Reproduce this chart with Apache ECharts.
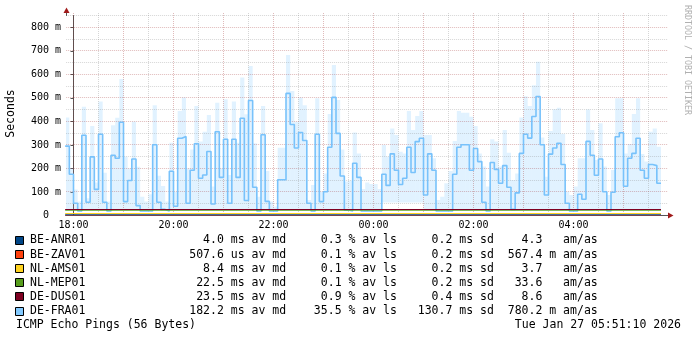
<!DOCTYPE html>
<html><head><meta charset="utf-8">
<script src="https://cdn.jsdelivr.net/npm/echarts@6/dist/echarts.min.js"></script>
<style>html,body{margin:0;padding:0;background:#fff}#c{width:697px;height:339px}</style>
</head><body><div id="c"></div>
<script>
// ---------- data ----------
// minutes relative to 18:00 (Mon Jan 26); view = 12 h ending Tue Jan 27 05:51:10
const viewStartMin = -8 - 50 / 60;      // 17:51:10
const viewEndMin = viewStartMin + 720;  // 05:51:10
const firstStepMin = -10;               // 17:50, 5-minute RRD steps
const stepMin = 5;

// DE-FRA01 median RTT per 5-min step (ms), 17:50 .. 05:40
const fraMedian = [
 295,175,52,19,341,56,249,111,345,56,19,256,243,396,59,149,240,42,19,19,
 19,301,56,26,19,188,39,328,336,52,192,305,158,172,272,49,356,162,324,52,
 324,162,413,64,489,120,19,343,60,19,19,152,152,519,387,287,353,319,52,19,
 345,59,101,290,502,349,168,23,19,222,162,19,19,19,19,19,175,128,262,192,
 132,158,290,183,314,328,87,262,192,19,19,19,19,175,290,301,301,192,285,229,
 56,19,225,196,137,212,120,26,96,264,345,329,421,506,301,87,261,287,307,217,
 52,19,19,90,69,315,256,171,240,101,19,99,335,352,124,243,264,328,192,158,
 217,212,137
];
// DE-FRA01 smoke (spread of the pings) upper bound per step (ms)
const fraSmokeHi = [
 417,200,111,60,462,73,380,140,484,182,59,384,415,580,250,200,398,207,80,60,
 90,469,169,125,60,309,100,444,502,200,280,465,314,356,427,123,479,200,494,172,
 484,309,586,430,635,307,80,465,189,59,38,288,288,682,529,398,502,469,66,130,
 498,101,179,431,640,491,281,144,148,353,264,113,140,134,134,113,300,250,370,342,
 271,264,444,363,423,444,342,342,243,66,80,137,189,317,444,437,437,420,380,264,
 208,123,324,314,208,363,267,151,179,417,507,465,554,653,331,165,359,452,458,346,
 101,87,123,243,243,451,363,236,392,208,87,193,498,498,264,304,431,498,261,229,
 356,370,292
];
// DE-FRA01 smoke lower bound per step (ms)
const fraSmokeLo = [
 19,19,19,19,19,19,19,19,19,19,19,19,19,19,19,19,19,19,19,19,
 19,19,19,19,19,19,19,19,19,19,19,19,19,19,19,19,19,19,19,19,
 19,19,19,19,19,19,19,19,19,19,19,19,19,19,19,19,19,19,19,19,
 19,19,19,19,19,19,19,19,19,19,19,19,19,19,19,19,55,55,55,55,
 55,55,55,55,55,55,19,19,19,19,19,19,19,19,19,19,19,19,19,19,
 19,19,19,19,19,19,19,19,19,19,19,19,19,19,19,19,19,19,19,19,
 19,19,19,19,19,19,19,19,19,19,19,19,19,19,19,19,19,19,19,19,
 19,19,19
];

// other targets: [minute, ms] readings (nearly flat)
const anrLine = [[-10, 3.0], [705, 3.0]];
const zavLine = [[-10, 0.5], [705, 0.5]];
const amsLine = [[-10, 8.4], [705, 8.4]];
const mepLine = [[-10, 22.5], [705, 22.5]];
const dusLine = [[-10, 25.5], [705, 25.5]];

// legend table
const hostNames  = ['BE-ANR01','BE-ZAV01','NL-AMS01','NL-MEP01','DE-DUS01','DE-FRA01'];
const hostColors = ['#004586','#ff420e','#ffd320','#579d1c','#7e0021','#83caff'];
const medVal  = ['4.0','507.6','8.4','22.5','23.5','182.2'];
const medUnit = ['ms','us','ms','ms','ms','ms'];
const lossVal = ['0.3','0.1','0.1','0.1','0.9','35.5'];
const sdVal   = ['0.2','0.2','0.2','0.2','0.4','130.7'];
const amasVal = ['4.3','567.4','3.7','33.6','8.6','780.2'];
const amasUnit= [' ','m',' ',' ',' ','m'];

// axes
const yMax = 850;
const yLabelVals = [0,100,200,300,400,500,600,700,800];
const yMajorGrid = [100,200,300,400,500,600,700,800];
const yMinorGrid = [50,150,250,350,450,550,650,750,850];
const xLabelVals = [0,120,240,360,480,600];
const xMajorGrid = [0,60,120,180,240,300,360,420,480,540,600,660];
const xMinorGrid = [30,90,150,210,270,330,390,450,510,570,630,690];

const titleText = 'ICMP Echo Pings (56 Bytes)';
const dateText = 'Tue Jan 27 05:51:10 2026';

// ---------- build ----------
const MONO = '"DejaVu Sans Mono", monospace';
function hhmm(m){ const t = ((m + 18*60) % 1440 + 1440) % 1440; const h = Math.floor(t/60), mi = Math.round(t%60);
  return String(h).padStart(2,'0') + ':' + String(mi).padStart(2,'0'); }

const fraLinePts = fraMedian.map((v,i)=>[firstStepMin + i*stepMin, v]);
fraLinePts.push([firstStepMin + fraMedian.length*stepMin, fraMedian[fraMedian.length-1]]);
const smokeData = fraMedian.map((_,i)=>[firstStepMin + i*stepMin, fraSmokeLo[i], fraSmokeHi[i]]);

const gridData = [];
xMajorGrid.forEach(v=>gridData.push([0,v]));
xMinorGrid.forEach(v=>gridData.push([1,v]));
yMajorGrid.forEach(v=>gridData.push([2,v]));
yMinorGrid.forEach(v=>gridData.push([3,v]));

const MAJ = 'rgba(160,40,40,0.32)';
const MIN = 'rgba(140,140,140,0.36)';

function stepLine(name, data, color, width, z){
  return {type:'line', name, data, step:'end', symbol:'none', z,
    lineStyle:{color, width}, silent:true, clip:true};
}

const legendGraphics = [];
const rowY0 = 240.5, rowDY = 14.1;
hostNames.forEach((n,i)=>{
  const y = rowY0 + i*rowDY;
  const s = n.padEnd(8) + medVal[i].padStart(20) + ' ' + medUnit[i] + ' av md' +
            lossVal[i].padStart(8) + ' % av ls' + sdVal[i].padStart(8) + ' ms sd' +
            amasVal[i].padStart(7) + ' ' + amasUnit[i] + ' am/as';
  legendGraphics.push({type:'rect', shape:{x:15.5, y:Math.round(y-4.5)+0.5, width:8, height:8},
    style:{fill:hostColors[i], stroke:'#000', lineWidth:1}});
  legendGraphics.push({type:'text', x:30, y:y, style:{text:s, font:'11.5px '+MONO, fill:'#000',
    textVerticalAlign:'middle', textAlign:'left'}});
});

const option = {
  animation:false,
  backgroundColor:'#fff',
  grid:{left:66.14, top:15.5, width:600, height:200},
  xAxis:{type:'value', min:viewStartMin, max:viewEndMin,
    axisLine:{show:true, lineStyle:{color:'#555', width:1}},
    axisTick:{show:false},
    splitLine:{show:false},
    axisLabel:{customValues:xLabelVals, formatter:v=>hhmm(v), fontFamily:MONO, fontSize:10, color:'#000', margin:5}
  },
  yAxis:{type:'value', min:0, max:yMax,
    axisLine:{show:true, lineStyle:{color:'#555', width:1}},
    axisTick:{show:true, customValues:yLabelVals, length:3, lineStyle:{color:'#555'}},
    splitLine:{show:false},
    axisLabel:{customValues:yLabelVals, formatter:v=> v===0 ? '0  ' : v+' m', fontFamily:MONO, fontSize:10, color:'#000', margin:5}
  },
  series:[
    {type:'custom', name:'smoke', data:smokeData, z:1, clip:true, silent:true,
      renderItem:(params, api)=>{
        const t = api.value(0), lo = api.value(1), hi = api.value(2);
        const a = api.coord([t, hi]), b = api.coord([t + stepMin, lo]);
        return {type:'rect', shape:{x:a[0], y:a[1], width:b[0]-a[0], height:b[1]-a[1]},
          style:{fill:'rgba(131,202,255,0.24)'}};
      }},
    {type:'custom', name:'grid', data:gridData, z:2, clip:false, silent:true,
      renderItem:(params, api)=>{
        const cs = params.coordSys; const k = api.value(0), v = api.value(1);
        const color = (k===0||k===2) ? MAJ : MIN;
        if (k < 2){
          const x = Math.floor(api.coord([v,0])[0]) + 0.5;
          return {type:'line', shape:{x1:x, y1:cs.y-2.5, x2:x, y2:cs.y+cs.height},
            style:{stroke:color, lineWidth:1, lineDash:[1,1]}};
        }
        const y = Math.floor(api.coord([viewStartMin, v])[1]) + 0.5;
        return {type:'line', shape:{x1:cs.x, y1:y, x2:cs.x+cs.width+2, y2:y},
          style:{stroke:color, lineWidth:1, lineDash:[1,1]}};
      }},
    stepLine('DE-FRA01', fraLinePts, '#78c2fb', 1.6, 5),
    stepLine('NL-MEP01', mepLine, hostColors[3], 1, 5),
    stepLine('DE-DUS01', dusLine, hostColors[4], 1.2, 6),
    stepLine('NL-AMS01', amsLine, hostColors[2], 1.2, 5),
    stepLine('BE-ANR01', anrLine, hostColors[0], 1.2, 5),
    stepLine('BE-ZAV01', zavLine, hostColors[1], 1, 4)
  ],
  graphic:[
    {type:'line', shape:{x1:66.5, y1:10, x2:66.5, y2:16}, style:{stroke:'#555', lineWidth:1}},
    {type:'polygon', shape:{points:[[63.5,13],[66.5,7.5],[69.5,13]]}, style:{fill:'#a01a1a'}},
    {type:'line', shape:{x1:666, y1:215.5, x2:671, y2:215.5}, style:{stroke:'#555', lineWidth:1}},
    {type:'polygon', shape:{points:[[668,212.5],[673.5,215.5],[668,218.5]]}, style:{fill:'#a01a1a'}},
    {type:'text', x:11, y:113.5, rotation:Math.PI/2, style:{text:'Seconds', font:'11.5px '+MONO, fill:'#000',
      textAlign:'center', textVerticalAlign:'middle'}},
    {type:'text', x:687.5, y:60, rotation:-Math.PI/2, style:{text:'RRDTOOL / TOBI OETIKER', font:'8.3px '+MONO, fill:'#b0b0b0',
      textAlign:'center', textVerticalAlign:'middle'}},
    ...legendGraphics,
    {type:'text', x:16, y:325, style:{text:titleText, font:'11.5px '+MONO, fill:'#000', textVerticalAlign:'middle'}},
    {type:'text', x:681, y:325, style:{text:dateText, font:'11.5px '+MONO, fill:'#000', textAlign:'right', textVerticalAlign:'middle'}}
  ]
};
const chart = echarts.init(document.getElementById('c'));
chart.setOption(option);
</script></body></html>
